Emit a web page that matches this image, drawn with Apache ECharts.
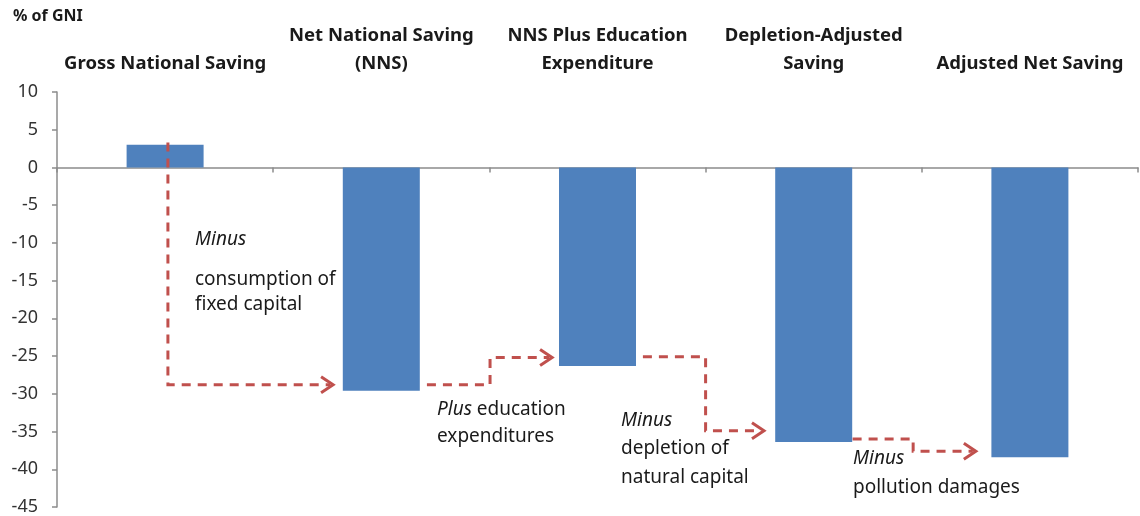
<!DOCTYPE html>
<html><head><meta charset="utf-8">
<script src="https://cdn.jsdelivr.net/npm/echarts@6/dist/echarts.min.js"></script>
<style>html,body{margin:0;padding:0;background:#fff}#c{width:1140px;height:516px}</style>
</head><body><div id="c"></div>
<script>
const categories = ['Gross National Saving', 'Net National Saving\n(NNS)', 'NNS Plus Education\nExpenditure', 'Depletion-Adjusted\nSaving', 'Adjusted Net Saving'];
const values = [3.0, -29.6, -26.3, -36.4, -38.4];
const yTicks = { min: -45, max: 10, interval: 5 };
// arrow paths: [category position (0..5), % of GNI]
const arrow1 = [[0.513, 3.3], [0.513, -28.8], [1.277, -28.8]];
const arrow2 = [[1.711, -28.8], [2.003, -28.8], [2.003, -25.2], [2.29, -25.2]];
const arrow3 = [[2.71, -25.1], [3.0, -25.1], [3.0, -34.9], [3.27, -34.9]];
const arrow4 = [[3.68, -36.0], [3.96, -36.0], [3.96, -37.6], [4.25, -37.6]];
const arrows = [arrow1, arrow2, arrow3, arrow4];

const FONT = 'Noto Sans';
const RED = '#C0504D';
const chart = echarts.init(document.getElementById('c'));

function renderArrow(params, api) {
  const pts = arrows[params.dataIndex].map(p => api.coord(p));
  const n = pts.length;
  const tip = pts[n - 1];
  const prev = pts[n - 2];
  const dx = tip[0] - prev[0], dy = tip[1] - prev[1];
  const len = Math.hypot(dx, dy) || 1;
  const ux = dx / len, uy = dy / len;
  const L = 12, W = 8;
  const head = [
    [tip[0] - ux * L - uy * W, tip[1] - uy * L + ux * W],
    tip,
    [tip[0] - ux * L + uy * W, tip[1] - uy * L - ux * W]
  ];
  const body = pts.slice(0, n - 1).concat([[tip[0] - ux * 3, tip[1] - uy * 3]]);
  return {
    type: 'group',
    children: [
      { type: 'polyline', shape: { points: body }, style: { stroke: RED, lineWidth: 3, fill: null, lineDash: [9, 7] } },
      { type: 'polyline', shape: { points: head }, style: { stroke: RED, lineWidth: 3, fill: null } }
    ]
  };
}

const AFS = 19;
const annStyle = { fontFamily: FONT, fontSize: AFS, fill: '#1a1a1a' };
function ann(left, top, text, lh) {
  return {
    type: 'text', left: left, top: top, z: 100,
    style: Object.assign({}, annStyle, {
      text: text, lineHeight: lh,
      rich: { i: { fontStyle: 'italic', fontFamily: FONT, fontSize: AFS, fill: '#1a1a1a', lineHeight: lh } }
    })
  };
}

chart.setOption({
  animation: false,
  grid: { left: 57, right: 2, top: 92, bottom: 9 },
  xAxis: [
    {
      type: 'category', data: categories, position: 'bottom',
      axisLine: { onZero: true, lineStyle: { color: '#8c8c8c', width: 1.5 } },
      axisTick: { show: true, length: 5, lineStyle: { color: '#8c8c8c', width: 1.5 } },
      axisLabel: { show: false }
    },
    {
      type: 'category', data: categories, position: 'top',
      axisLine: { show: false }, axisTick: { show: false },
      axisLabel: { show: true, interval: 0, fontFamily: FONT, fontWeight: 'bold', fontSize: 18.5, color: '#1a1a1a', lineHeight: 28, margin: 14 }
    },
    { type: 'value', min: 0, max: 5, show: false }
  ],
  yAxis: {
    type: 'value', min: yTicks.min, max: yTicks.max, interval: yTicks.interval,
    splitLine: { show: false },
    axisLine: { show: true, onZero: false, lineStyle: { color: '#8c8c8c', width: 1.5 } },
    axisTick: { show: true, length: 5, lineStyle: { color: '#8c8c8c', width: 1.5 } },
    axisLabel: { fontFamily: FONT, fontSize: 18, color: '#333', margin: 19 }
  },
  graphic: [
    { type: 'text', left: 13, top: 8, style: { text: '% of GNI', fontFamily: FONT, fontWeight: 'bold', fontSize: 16, fill: '#1a1a1a' } },
    ann(195, 227, '{i|Minus}', 26),
    ann(195, 267, 'consumption of\nfixed capital', 25),
    ann(437, 396, '{i|Plus} education\nexpenditures', 27),
    ann(621, 406, '{i|Minus}\ndepletion of\nnatural capital', 28.5),
    ann(853, 444, '{i|Minus}\npollution damages', 29)
  ],
  series: [
    {
      type: 'bar', data: values, xAxisIndex: 0, barWidth: 77,
      itemStyle: { color: '#4F81BD' }
    },
    {
      type: 'custom', xAxisIndex: 2, data: arrows.map((a, i) => i),
      renderItem: renderArrow, z: 10, clip: false
    }
  ]
});
</script></body></html>
